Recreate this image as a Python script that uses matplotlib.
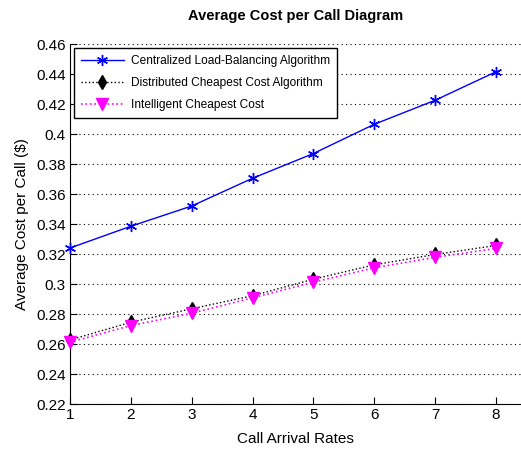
import matplotlib.pyplot as plt
import numpy as np

plt.rcParams['font.family'] = ['Liberation Sans', 'DejaVu Sans']

# Taux d'arrivée des appels
rates = [1, 2, 3, 4, 5, 6, 7, 8]

# Coût moyen par appel pour chaque algorithme
centralized = [0.324, 0.3385, 0.352, 0.3705, 0.387, 0.4065, 0.4225, 0.4415]
distributed = [0.2627, 0.2745, 0.2835, 0.2922, 0.3032, 0.3128, 0.3197, 0.3257]
intelligent = [0.2612, 0.2723, 0.2805, 0.2908, 0.3012, 0.3108, 0.3178, 0.3237]

labels = ['Centralized Load-Balancing Algorithm',
          'Distributed Cheapest Cost Algorithm',
          'Intelligent Cheapest Cost']

yticks = np.arange(0.22, 0.4601, 0.02)

fig = plt.figure(figsize=(5.21, 4.5), dpi=100)
ax = fig.add_axes([70/521, 46/450, 451/521, 360/450])

# astérisque façon MATLAB
ax.plot(rates, centralized, '-', color='blue', lw=1.0, marker=(6, 2, 0), ms=8,
        mew=1.0, mec='blue', mfc='blue', label=labels[0], clip_on=False, zorder=4)
ax.plot(rates, distributed, ':', color='black', lw=1.0, marker='d', ms=7,
        mec='black', mfc='black', label=labels[1], clip_on=False, zorder=3)
ax.plot(rates, intelligent, ':', color='magenta', lw=1.2, marker='v', ms=9,
        mec='magenta', mfc='magenta', label=labels[2], clip_on=False, zorder=3)

ax.set_xlim(1, 1 + 451/60.86)
ax.set_ylim(0.22, 0.46)
ax.set_xticks(rates)
ax.set_yticks(yticks)
ax.set_yticklabels([('%.2f' % v).rstrip('0') for v in yticks])

ax.grid(axis='y', linestyle=(0, (1, 3)), color='black', lw=0.8)
ax.set_axisbelow(True)
for s in ['top', 'right']:
    ax.spines[s].set_visible(False)
ax.tick_params(direction='in', length=5, labelsize=11, pad=3)

ax.set_xlabel('Call Arrival Rates', fontsize=11, labelpad=7)
ax.set_ylabel('Average Cost per Call ($)', fontsize=11, labelpad=5)
ax.set_title('Average Cost per Call Diagram', fontsize=10.5,
             fontweight='bold', pad=17)

leg = ax.legend(loc='upper left', fontsize=8.6, handlelength=3.6,
                fancybox=False, edgecolor='black', framealpha=1,
                borderaxespad=0.3, labelspacing=0.85, borderpad=0.6,
                handletextpad=0.6)
leg.get_frame().set_linewidth(1.0)

fig.savefig('out.png', dpi=100)
